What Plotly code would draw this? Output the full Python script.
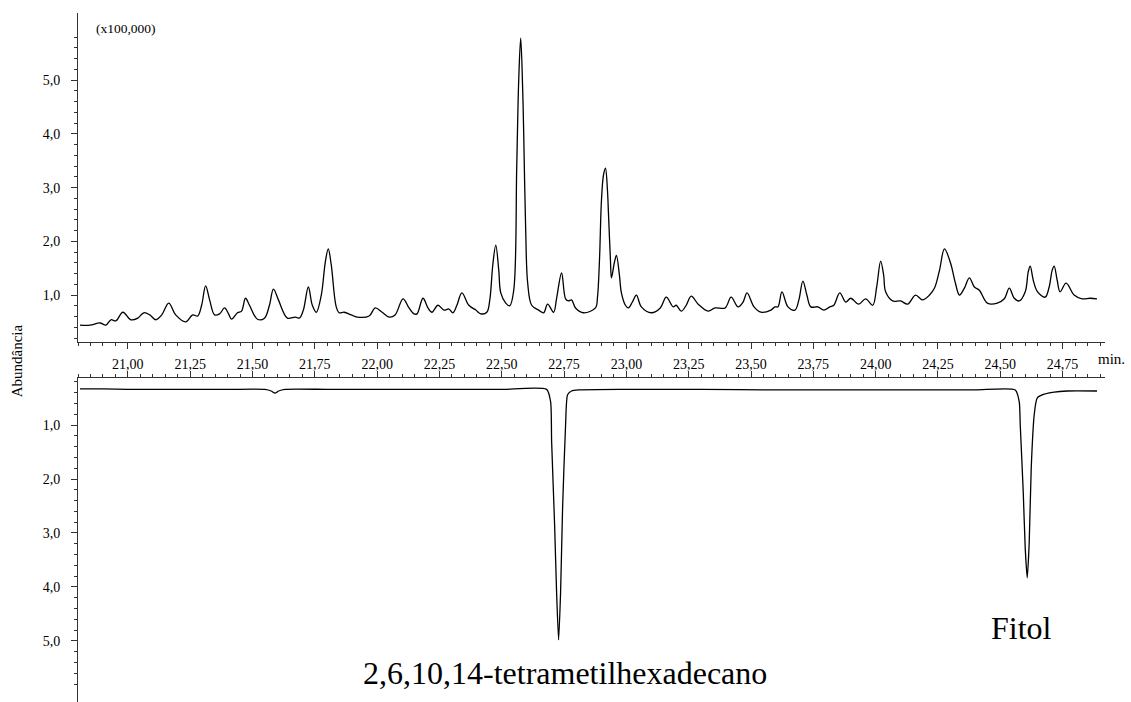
import plotly.graph_objects as go

# ---- data (time in min, abundance in x100,000) ----
tic_time = [20.808, 20.848, 20.888, 20.912, 20.932, 20.952, 20.98, 21.012, 21.04, 21.064, 21.088, 21.112,
            21.136, 21.164, 21.192, 21.232, 21.26, 21.28, 21.296, 21.312, 21.328, 21.348, 21.368, 21.388,
            21.404, 21.416, 21.44, 21.456, 21.472, 21.488, 21.52, 21.548, 21.568, 21.584, 21.604, 21.64,
            21.672, 21.688, 21.704, 21.724, 21.74, 21.756, 21.776, 21.792, 21.804, 21.816, 21.836, 21.848,
            21.868, 21.896, 21.92, 21.968, 21.992, 22.02, 22.048, 22.072, 22.104, 22.128, 22.148, 22.16,
            22.184, 22.204, 22.22, 22.244, 22.268, 22.288, 22.304, 22.32, 22.34, 22.368, 22.396, 22.416,
            22.44, 22.452, 22.464, 22.476, 22.488, 22.496, 22.516, 22.532, 22.548, 22.56, 22.568, 22.576,
            22.584, 22.588, 22.596, 22.604, 22.62, 22.648, 22.668, 22.684, 22.708, 22.72, 22.74, 22.756,
            22.768, 22.78, 22.796, 22.828, 22.876, 22.884, 22.892, 22.9, 22.908, 22.916, 22.924, 22.928,
            22.936, 22.94, 22.952, 22.96, 22.972, 22.98, 22.996, 23.008, 23.024, 23.04, 23.06, 23.1,
            23.136, 23.16, 23.188, 23.2, 23.22, 23.24, 23.26, 23.288, 23.328, 23.356, 23.396, 23.42,
            23.448, 23.468, 23.484, 23.512, 23.54, 23.58, 23.596, 23.608, 23.624, 23.648, 23.676, 23.692,
            23.708, 23.724, 23.74, 23.768, 23.792, 23.816, 23.832, 23.856, 23.88, 23.9, 23.932, 23.96,
            23.988, 24.004, 24.02, 24.032, 24.04, 24.068, 24.1, 24.128, 24.16, 24.188, 24.216, 24.236,
            24.256, 24.276, 24.3, 24.32, 24.336, 24.356, 24.376, 24.396, 24.416, 24.448, 24.488, 24.516,
            24.536, 24.556, 24.576, 24.6, 24.612, 24.62, 24.632, 24.648, 24.68, 24.696, 24.708, 24.716,
            24.728, 24.74, 24.764, 24.796, 24.828, 24.86, 24.888]
tic_abund = [0.44, 0.44, 0.48, 0.44, 0.54, 0.52, 0.68, 0.54, 0.57, 0.67, 0.63, 0.54,
             0.63, 0.85, 0.63, 0.50, 0.63, 0.61, 0.81, 1.17, 0.91, 0.63, 0.65, 0.76,
             0.65, 0.55, 0.67, 0.70, 0.94, 0.81, 0.55, 0.57, 0.81, 1.11, 0.91, 0.57,
             0.59, 0.57, 0.72, 1.15, 0.81, 0.68, 1.00, 1.61, 1.86, 1.56, 0.78, 0.67,
             0.68, 0.63, 0.59, 0.61, 0.76, 0.68, 0.59, 0.63, 0.93, 0.76, 0.65, 0.65,
             0.94, 0.76, 0.68, 0.81, 0.72, 0.74, 0.67, 0.81, 1.04, 0.81, 0.72, 0.65,
             0.68, 0.91, 1.56, 1.93, 1.46, 1.04, 0.85, 0.80, 1.09, 3.38, 5.00, 5.78,
             4.81, 4.01, 2.21, 1.22, 0.81, 0.72, 0.67, 0.83, 0.68, 0.94, 1.41, 0.93,
             0.89, 0.91, 0.76, 0.67, 0.76, 0.96, 1.65, 2.77, 3.23, 3.36, 2.95, 2.53,
             1.65, 1.32, 1.61, 1.74, 1.37, 1.04, 0.81, 0.76, 0.87, 1.00, 0.78, 0.67,
             0.76, 0.96, 0.78, 0.81, 0.70, 0.81, 0.98, 0.83, 0.70, 0.76, 0.76, 0.96,
             0.78, 0.87, 1.04, 0.78, 0.68, 0.72, 0.78, 0.78, 1.06, 0.78, 0.72, 0.91,
             1.26, 1.00, 0.78, 0.78, 0.72, 0.78, 0.81, 1.04, 0.87, 0.94, 0.83, 0.93,
             0.81, 1.15, 1.63, 1.37, 1.06, 0.89, 0.89, 0.83, 1.00, 0.91, 1.00, 1.13,
             1.46, 1.86, 1.60, 1.22, 1.00, 1.13, 1.32, 1.15, 1.09, 0.85, 0.85, 0.93,
             1.13, 0.94, 0.89, 1.06, 1.43, 1.54, 1.28, 1.07, 0.96, 1.15, 1.46, 1.54,
             1.28, 1.06, 1.22, 1.00, 0.93, 0.94, 0.93]

sim_time = [20.808, 20.9, 21.0, 21.2, 21.4, 21.55, 21.575, 21.59, 21.605, 21.63, 21.8, 22.0, 22.3,
            22.5, 22.68, 22.696, 22.70, 22.712, 22.72, 22.728, 22.736, 22.744, 22.756, 22.764,
            22.78, 22.808, 23.0, 23.3, 23.6, 23.9, 24.2, 24.4, 24.56, 24.576, 24.58, 24.592,
            24.60, 24.608, 24.616, 24.624, 24.636, 24.648, 24.676, 24.716, 24.768, 24.888]
sim_abund = [0.33, 0.33, 0.34, 0.34, 0.34, 0.34, 0.37, 0.41, 0.37, 0.34, 0.34, 0.34, 0.34,
             0.34, 0.34, 0.57, 1.30, 2.85, 4.10, 4.98, 4.10, 2.54, 1.00, 0.44,
             0.37, 0.35, 0.34, 0.34, 0.35, 0.35, 0.35, 0.35, 0.35, 0.57, 1.00, 2.24,
             3.28, 3.83, 3.17, 1.80, 0.81, 0.50, 0.43, 0.39, 0.37, 0.37]

x_tickvals = [21.00, 21.25, 21.50, 21.75, 22.00, 22.25, 22.50, 22.75,
              23.00, 23.25, 23.50, 23.75, 24.00, 24.25, 24.50, 24.75]
x_ticktext = ["21,00", "21,25", "21,50", "21,75", "22,00", "22,25", "22,50", "22,75",
              "23,00", "23,25", "23,50", "23,75", "24,00", "24,25", "24,50", "24,75"]
y_tickvals = [1, 2, 3, 4, 5]
y_ticktext = ["1,0", "2,0", "3,0", "4,0", "5,0"]
y_minorvals = [0.2, 0.4, 0.6, 0.8, 1.2, 1.4, 1.6, 1.8, 2.2, 2.4, 2.6, 2.8, 3.2, 3.4, 3.6, 3.8,
               4.2, 4.4, 4.6, 4.8, 5.2, 5.4, 5.6, 5.8]

FONT = "Liberation Serif"
AX = "#333333"

fig = go.Figure()
fig.add_trace(go.Scatter(x=tic_time, y=tic_abund, mode="lines", xaxis="x", yaxis="y",
                         line=dict(color="black", width=1.3, shape="spline", smoothing=1.0),
                         showlegend=False, hoverinfo="skip"))
fig.add_trace(go.Scatter(x=sim_time, y=sim_abund, mode="lines", xaxis="x2", yaxis="y2",
                         line=dict(color="black", width=1.3, shape="spline", smoothing=0.6),
                         showlegend=False, hoverinfo="skip"))

xcommon = dict(range=[20.80, 24.92], showline=True, linecolor=AX, linewidth=1,
               showgrid=False, zeroline=False, ticks="outside", ticklen=6, tickcolor=AX,
               tickwidth=1, tickvals=x_tickvals, ticktext=x_ticktext, automargin=False,
               minor=dict(dtick=0.05, tick0=20.80, ticks="outside", ticklen=3,
                          tickcolor=AX, tickwidth=1, showgrid=False),
               tickfont=dict(family=FONT, size=14, color="black"))
ycommon = dict(showline=True, linecolor=AX, linewidth=1, showgrid=False, zeroline=False,
               ticks="outside", ticklen=6, tickcolor=AX, tickwidth=1, automargin=False,
               tickvals=y_tickvals, ticktext=y_ticktext,
               minor=dict(tickvals=y_minorvals, ticks="outside", ticklen=3,
                          tickcolor=AX, tickwidth=1, showgrid=False),
               tickfont=dict(family=FONT, size=14, color="black"),
               ticklabelstandoff=8)

fig.update_layout(
    width=1131, height=702,
    margin=dict(l=78, r=26, t=13, b=0, autoexpand=False),
    paper_bgcolor="white", plot_bgcolor="white",
    xaxis=dict(**xcommon, anchor="y", side="bottom", ticklabelstandoff=3),
    xaxis2=dict(**xcommon, anchor="y2", side="top", matches="x", showticklabels=False),
    yaxis=dict(**ycommon, domain=[0.5225, 1.0], range=[0.126, 6.25], anchor="x"),
    yaxis2=dict(**ycommon, domain=[0.0, 0.4702], range=[6.13, 0.13], anchor="x2"),
    annotations=[
        dict(text="(x100,000)", xref="paper", yref="paper", x=0.047, y=0.978,
             xanchor="center", yanchor="middle", showarrow=False,
             font=dict(family=FONT, size=13.5, color="black")),
        dict(text="min.", xref="paper", yref="paper", x=1.006, y=0.498,
             xanchor="center", yanchor="middle", showarrow=False,
             font=dict(family=FONT, size=15, color="black")),
        dict(text="Abundância", xref="paper", yref="paper", x=-0.059, y=0.495,
             xanchor="center", yanchor="middle", textangle=-90, showarrow=False,
             font=dict(family=FONT, size=15, color="black")),
        dict(text="2,6,10,14-tetrametilhexadecano", xref="paper", yref="paper",
             x=0.474, y=0.042, xanchor="center", yanchor="middle", showarrow=False,
             font=dict(family=FONT, size=32, color="black")),
        dict(text="Fitol", xref="paper", yref="paper", x=0.919, y=0.107,
             xanchor="center", yanchor="middle", showarrow=False,
             font=dict(family=FONT, size=32, color="black")),
    ],
)

fig.write_html("out.html",
               config={"displayModeBar": False},
               post_script="document.body.style.margin='0px';document.body.style.overflow='hidden';")
